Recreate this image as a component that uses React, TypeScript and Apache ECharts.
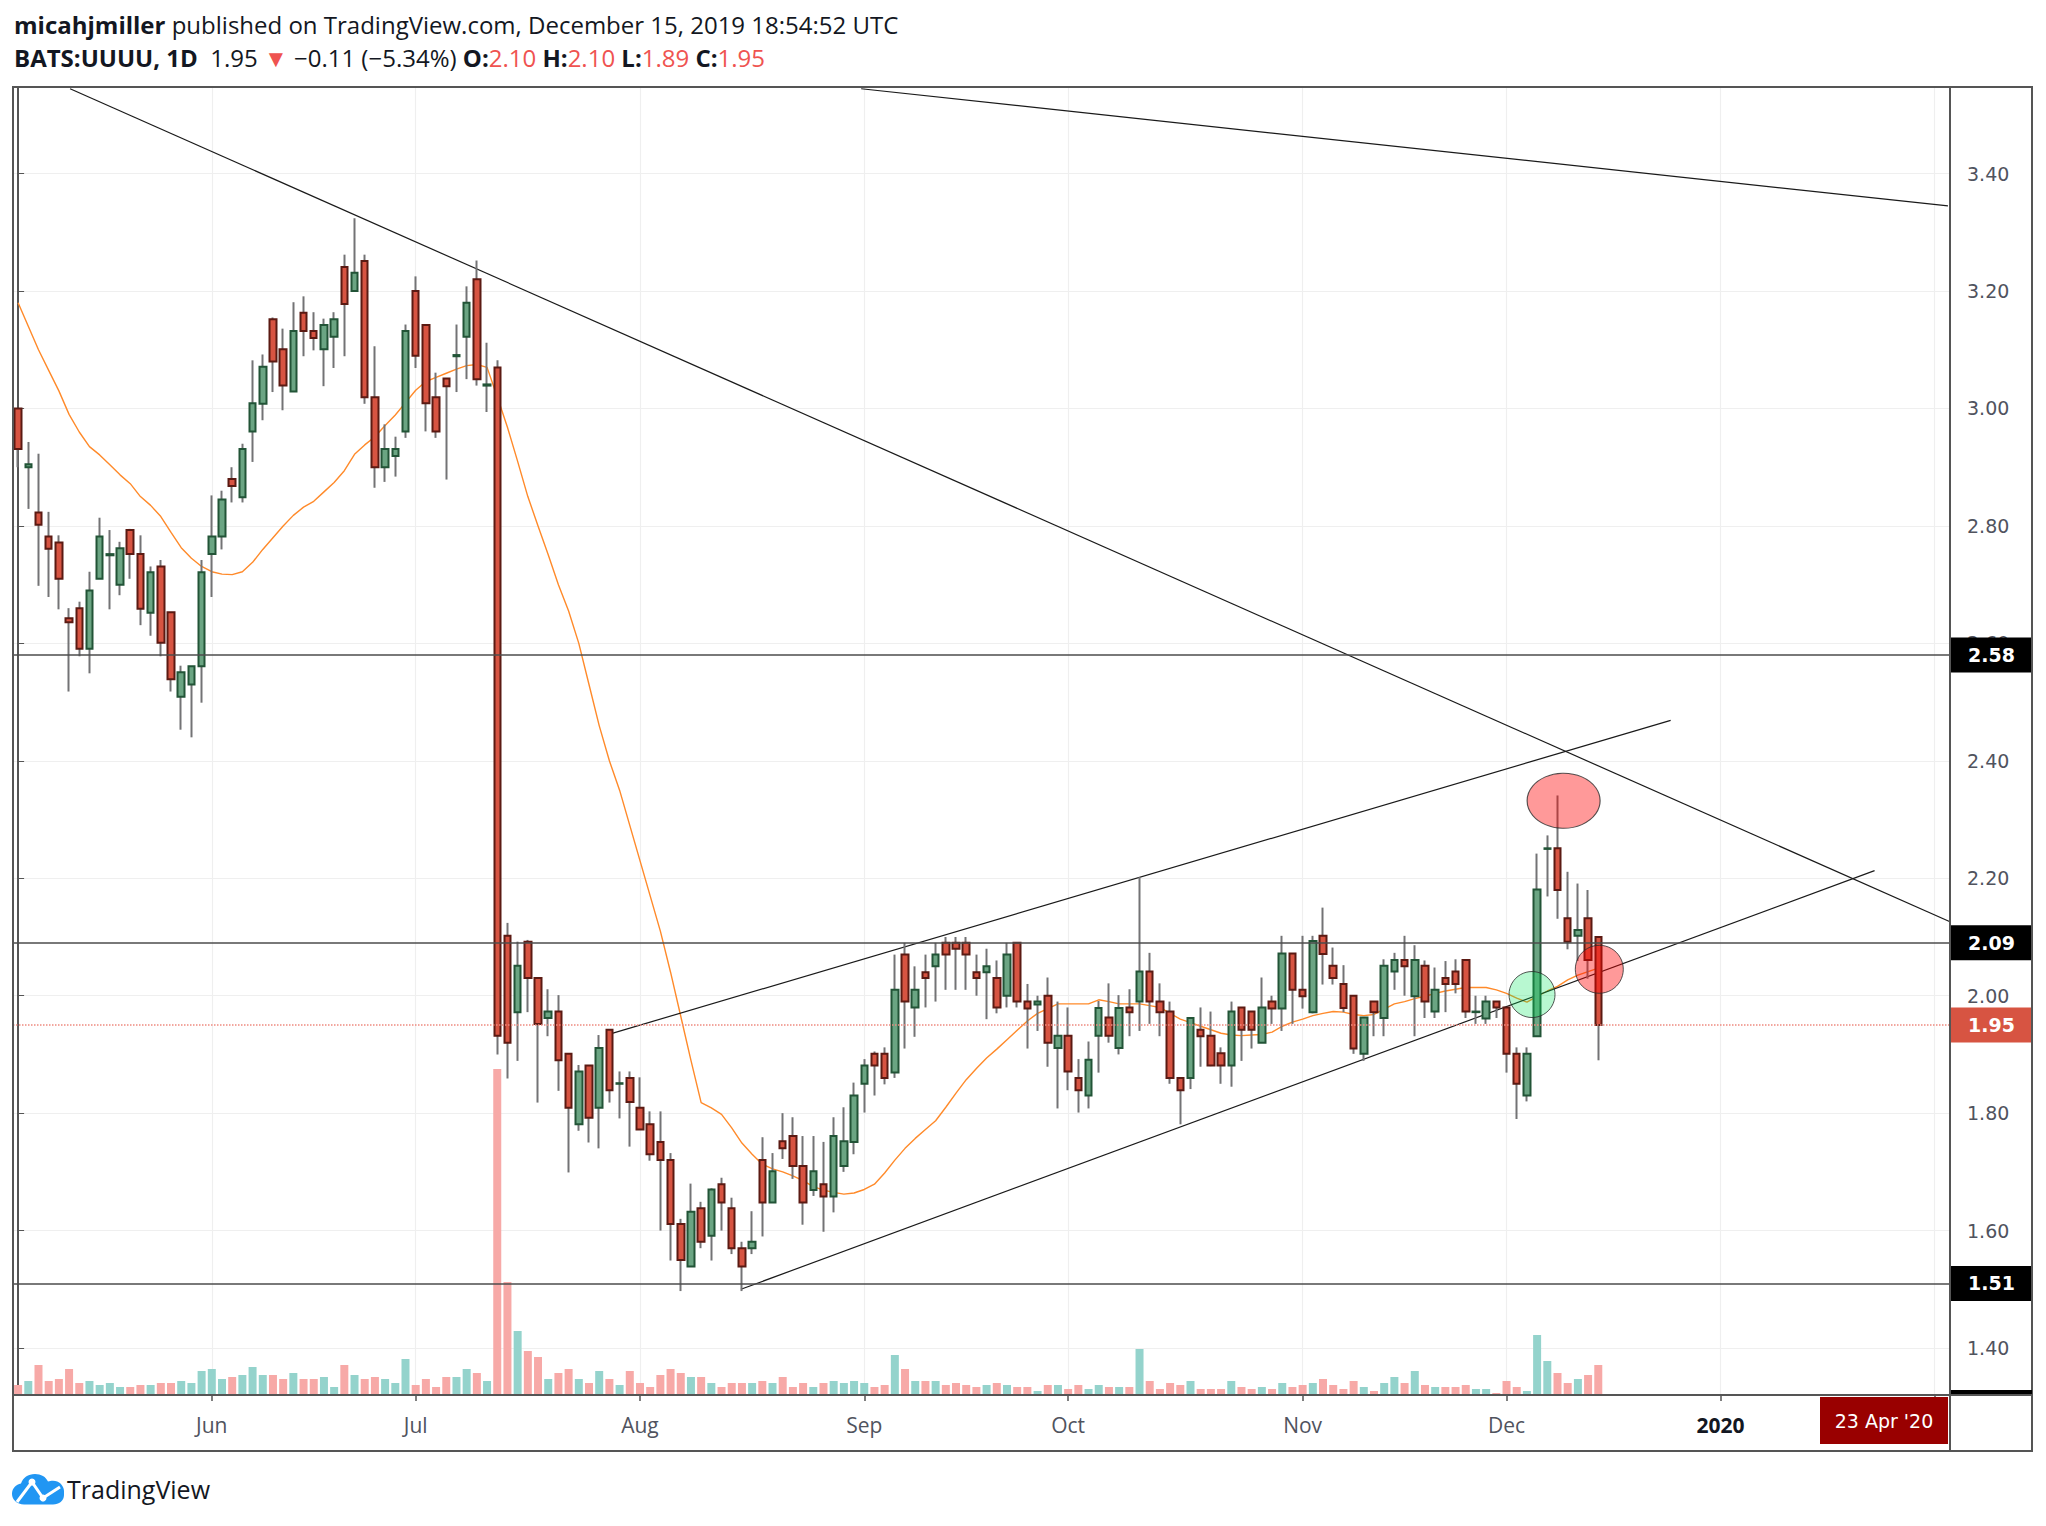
import React, { useEffect, useRef } from 'react';
import * as echarts from 'echarts';

// ---------- axis scaffolding ----------
const FIRST_DAY = '2019-05-06';
const BAR_COUNT = 190; // traded bars + empty future bars on the right
const HOLIDAYS = ['2019-05-27', '2019-07-04', '2019-09-02', '2019-11-28', '2019-12-25', '2020-01-01', '2020-01-20'];
const MONTHS = ['Jan', 'Feb', 'Mar', 'Apr', 'May', 'Jun', 'Jul', 'Aug', 'Sep', 'Oct', 'Nov', 'Dec'];
const LAST_LABEL_DAY = '2020-01-31';

// ---------- daily OHLC (BATS:UUUU, 6 May – 13 Dec 2019) ----------
const open = [
  3.00, 2.90, 2.823, 2.782, 2.772, 2.643, 2.660, 2.591, 2.710, 2.750,
  2.700, 2.793, 2.752, 2.652, 2.731, 2.653, 2.509, 2.530, 2.561, 2.752,
  2.782, 2.880, 2.849, 2.961, 3.008, 3.152, 3.101, 3.029, 3.163, 3.132,
  3.101, 3.122, 3.241, 3.20, 3.251, 3.019, 2.900, 2.919, 2.961, 3.20,
  3.142, 3.019, 3.051, 3.089, 3.122, 3.220, 3.039, 3.07, 2.102, 1.972,
  2.092, 2.030, 1.962, 1.973, 1.901, 1.781, 1.881, 1.809, 1.942, 1.850,
  1.860, 1.809, 1.781, 1.751, 1.720, 1.611, 1.539, 1.638, 1.591, 1.679,
  1.638, 1.570, 1.570, 1.720, 1.648, 1.752, 1.761, 1.710, 1.669, 1.679,
  1.658, 1.710, 1.751, 1.850, 1.901, 1.901, 1.869, 2.07, 1.98, 2.04,
  2.05, 2.09, 2.09, 2.09, 2.04, 2.04, 2.03, 2.00, 2.09, 1.99,
  1.985, 2.00, 1.911, 1.932, 1.860, 1.830, 1.932, 1.963, 1.911, 1.980,
  1.990, 2.041, 1.990, 1.973, 1.860, 1.860, 1.942, 1.932, 1.902, 1.881,
  1.980, 1.973, 1.920, 1.990, 1.978, 2.072, 2.010, 1.972, 2.102, 2.051,
  2.020, 2.00, 1.901, 1.990, 1.962, 2.041, 2.061, 1.999, 2.051, 1.973,
  2.030, 2.041, 2.061, 1.972, 1.961, 1.990, 1.980, 1.901, 1.830, 1.931,
  2.250, 2.251, 2.132, 2.102, 2.132, 2.10,
];
const high = [
  3.00, 2.943, 2.923, 2.824, 2.784, 2.660, 2.671, 2.722, 2.814, 2.793,
  2.773, 2.795, 2.784, 2.731, 2.742, 2.653, 2.562, 2.561, 2.742, 2.852,
  2.86, 2.90, 2.94, 3.082, 3.092, 3.155, 3.136, 3.181, 3.191, 3.164,
  3.153, 3.164, 3.262, 3.324, 3.262, 3.106, 2.973, 2.952, 3.143, 3.225,
  3.142, 3.061, 3.051, 3.143, 3.208, 3.252, 3.112, 3.082, 2.124, 2.092,
  2.095, 2.030, 2.011, 2.001, 1.901, 1.882, 1.881, 1.933, 1.942, 1.871,
  1.871, 1.861, 1.803, 1.803, 1.732, 1.62, 1.680, 1.649, 1.672, 1.690,
  1.656, 1.581, 1.633, 1.759, 1.732, 1.800, 1.793, 1.761, 1.761, 1.751,
  1.793, 1.81, 1.852, 1.892, 1.905, 1.912, 2.07, 2.09, 2.05, 2.07,
  2.09, 2.10, 2.10, 2.10, 2.07, 2.08, 2.06, 2.09, 2.09, 2.02,
  2.00, 2.031, 1.990, 1.980, 1.892, 1.922, 1.991, 2.021, 2.001, 2.011,
  2.202, 2.073, 2.021, 1.990, 1.860, 1.962, 1.980, 1.973, 1.912, 1.990,
  1.98, 1.973, 2.031, 2.00, 2.102, 2.072, 2.102, 2.102, 2.150, 2.082,
  2.052, 2.00, 1.963, 1.99, 2.062, 2.073, 2.102, 2.086, 2.06, 2.048,
  2.059, 2.062, 2.061, 2.00, 2.00, 1.99, 1.98, 1.912, 1.912, 2.242,
  2.273, 2.341, 2.211, 2.191, 2.180, 2.10,
];
const low = [
  2.90, 2.829, 2.698, 2.679, 2.658, 2.518, 2.578, 2.549, 2.710, 2.658,
  2.682, 2.710, 2.631, 2.613, 2.578, 2.518, 2.453, 2.440, 2.499, 2.679,
  2.76, 2.84, 2.84, 2.909, 2.980, 3.028, 2.997, 3.029, 3.089, 3.099,
  3.038, 3.069, 3.089, 3.20, 3.008, 2.865, 2.875, 2.884, 2.950, 3.069,
  2.961, 2.950, 2.879, 3.028, 3.050, 3.039, 2.994, 1.90, 1.859, 1.889,
  1.972, 1.818, 1.931, 1.838, 1.699, 1.770, 1.750, 1.740, 1.818, 1.791,
  1.743, 1.772, 1.719, 1.600, 1.549, 1.497, 1.539, 1.570, 1.549, 1.600,
  1.560, 1.497, 1.560, 1.590, 1.648, 1.722, 1.688, 1.610, 1.659, 1.598,
  1.631, 1.70, 1.730, 1.801, 1.830, 1.849, 1.860, 1.91, 1.93, 1.98,
  1.99, 2.01, 2.01, 2.01, 2.00, 1.96, 1.97, 1.98, 1.98, 1.91,
  1.94, 1.879, 1.808, 1.839, 1.801, 1.808, 1.869, 1.92, 1.90, 1.931,
  1.940, 1.952, 1.931, 1.850, 1.781, 1.841, 1.879, 1.88, 1.850, 1.845,
  1.889, 1.910, 1.92, 1.952, 1.940, 1.952, 1.978, 1.97, 2.019, 2.019,
  1.972, 1.901, 1.889, 1.931, 1.931, 2.010, 2.00, 1.931, 1.962, 1.962,
  1.972, 2.004, 1.962, 1.952, 1.952, 1.962, 1.869, 1.790, 1.820, 1.931,
  2.169, 2.131, 2.079, 2.059, 2.029, 1.89,
];
const close = [
  2.931, 2.905, 2.802, 2.761, 2.710, 2.636, 2.591, 2.690, 2.782, 2.752,
  2.762, 2.752, 2.659, 2.721, 2.601, 2.539, 2.551, 2.561, 2.721, 2.782,
  2.845, 2.868, 2.931, 3.009, 3.071, 3.080, 3.039, 3.132, 3.132, 3.120,
  3.142, 3.152, 3.178, 3.231, 3.019, 2.900, 2.931, 2.931, 3.132, 3.090,
  3.009, 2.961, 3.038, 3.091, 3.180, 3.050, 3.041, 1.932, 1.920, 2.051,
  2.030, 1.952, 1.973, 1.890, 1.809, 1.871, 1.792, 1.911, 1.839, 1.851,
  1.819, 1.772, 1.730, 1.720, 1.611, 1.550, 1.632, 1.581, 1.670, 1.648,
  1.570, 1.539, 1.581, 1.648, 1.701, 1.740, 1.710, 1.648, 1.701, 1.658,
  1.761, 1.752, 1.830, 1.881, 1.881, 1.860, 2.010, 1.99, 2.01, 2.03,
  2.07, 2.07, 2.08, 2.07, 2.03, 2.05, 1.98, 2.07, 1.99, 1.978,
  1.99, 1.920, 1.932, 1.871, 1.839, 1.891, 1.979, 1.932, 1.979, 1.972,
  2.041, 1.990, 1.972, 1.860, 1.839, 1.962, 1.931, 1.881, 1.881, 1.973,
  1.942, 1.942, 1.980, 1.978, 2.072, 2.010, 1.999, 2.093, 2.071, 2.030,
  1.979, 1.910, 1.963, 1.972, 2.051, 2.061, 2.050, 2.061, 1.990, 2.010,
  2.020, 2.020, 1.973, 1.973, 1.990, 1.980, 1.901, 1.850, 1.901, 2.181,
  2.251, 2.180, 2.092, 2.112, 2.061, 1.95,
];
// ---------- volume (relative units) ----------
const volume = [
  10, 14, 30, 14, 16, 26, 12, 14, 10, 12,
  8, 8, 10, 10, 12, 12, 14, 12, 24, 26,
  16, 18, 20, 28, 20, 20, 16, 22, 16, 16,
  18, 8, 30, 20, 16, 18, 16, 12, 36, 10,
  16, 8, 18, 18, 26, 22, 14, 326, 113, 64,
  44, 38, 16, 22, 26, 16, 12, 24, 16, 10,
  24, 12, 8, 20, 26, 22, 18, 18, 12, 8,
  12, 12, 12, 14, 12, 18, 8, 12, 8, 12,
  14, 12, 14, 12, 8, 10, 40, 26, 14, 14,
  14, 10, 12, 10, 8, 10, 12, 10, 8, 8,
  4, 10, 10, 6, 10, 6, 10, 8, 8, 8,
  46, 14, 6, 12, 10, 14, 6, 6, 6, 14,
  8, 6, 8, 6, 12, 8, 10, 12, 16, 10,
  6, 14, 8, 4, 12, 18, 12, 24, 10, 8,
  8, 8, 10, 6, 6, 2, 14, 8, 4, 60,
  34, 22, 12, 16, 20, 30,
];
// ---------- orange moving average ----------
const movingAverage = [
  3.18, 3.14, 3.10, 3.065, 3.03, 2.99, 2.96, 2.935, 2.921, 2.904,
  2.887, 2.872, 2.85, 2.835, 2.816, 2.789, 2.763, 2.745, 2.731, 2.722,
  2.718, 2.717, 2.722, 2.738, 2.76, 2.78, 2.80, 2.818, 2.832, 2.842,
  2.858, 2.874, 2.894, 2.922, 2.938, 2.952, 2.971, 2.989, 3.010, 3.031,
  3.046, 3.053, 3.060, 3.067, 3.073, 3.075, 3.070, 3.02, 2.968, 2.91,
  2.85, 2.80, 2.751, 2.70, 2.655, 2.60, 2.53, 2.46, 2.40, 2.35,
  2.29, 2.23, 2.17, 2.11, 2.04, 1.965, 1.89, 1.818, 1.809, 1.798,
  1.775, 1.749, 1.73, 1.713, 1.705, 1.70, 1.693, 1.685, 1.675, 1.669,
  1.665, 1.662, 1.664, 1.670, 1.679, 1.698, 1.72, 1.74, 1.757, 1.772,
  1.787, 1.81, 1.834, 1.857, 1.876, 1.894, 1.909, 1.925, 1.941, 1.957,
  1.970, 1.978, 1.986, 1.986, 1.986, 1.986, 1.993, 1.99, 1.986, 1.986,
  1.986, 1.983, 1.980, 1.970, 1.960, 1.954, 1.948, 1.942, 1.936, 1.933,
  1.932, 1.933, 1.934, 1.938, 1.948, 1.955, 1.960, 1.966, 1.970, 1.973,
  1.972, 1.968, 1.966, 1.968, 1.977, 1.986, 1.990, 1.995, 1.999, 2.004,
  2.008, 2.011, 2.014, 2.014, 2.014, 2.010, 2.004, 1.996, 1.989, 1.999,
  2.008, 2.016, 2.027, 2.035, 2.041, 2.047,
];
// ---------- drawings ----------
const levelLines = [2.58, 2.09, 1.51];
const lastPrice = 1.95;
// [barIndex, price] endpoints
const trendLines = [
  [[5.1, 3.5445], [189.5, 2.126]],
  [[82.7, 3.5445], [189.3, 3.345]],
  [[58.1, 1.935], [162.1, 2.469]],
  [[70.9, 1.50], [182.1, 2.213]],
];
const markerBars = [151.6, 155.1, 148.5];
const markerPrices = [2.332, 2.045, 2.002];

const PRICE_MIN = 1.32;
const PRICE_MAX = 3.5475;

const GREEN_FILL = '#6ba583';
const GREEN_LINE = '#225437';
const RED_FILL = '#d75442';
const RED_LINE = '#5b1a13';
const WICK = '#737375';
const TXT = '#131722';
const AXIS_TXT = '#50535e';
const FRAME = '#555555';
const GRID = '#efefef';

const CLOUD_D =
  'M12 32 C5 32 0 27 0 21 C0 15 4 11 9 10 C11 4 16 0 23 0 C29 0 34 3 36 8 C37.5 7.5 39 7 41 7 C47 7 52 12 52 18 L52 22 C52 28 47 32 41 32 Z';

function buildDays(): string[] {
  const out: string[] = [];
  const d = new Date(FIRST_DAY + 'T00:00:00Z');
  while (out.length < BAR_COUNT) {
    const wd = d.getUTCDay();
    const s = d.toISOString().slice(0, 10);
    if (wd !== 0 && wd !== 6 && HOLIDAYS.indexOf(s) < 0) out.push(s);
    d.setUTCDate(d.getUTCDate() + 1);
  }
  return out;
}

function buildOption() {
  const days = buildDays();
  const isMonthStart = (i: number) => i > 0 && days[i].slice(5, 7) !== days[i - 1].slice(5, 7);
  const isLabeled = (i: number) => isMonthStart(i) && days[i] <= LAST_LABEL_DAY;

  const wickData = open.map((o, i) => [o, close[i], low[i], high[i]]);
  const bodyData = open.map((o, i) => [o, close[i], Math.min(o, close[i]), Math.max(o, close[i])]);
  const volData = volume.map((v, i) => ({
    value: v,
    itemStyle: { color: close[i] >= open[i] ? '#94d3cc' : '#f7a9a7' },
  }));

  const grid = { left: 13, right: 96, top: 87, bottom: 131 };

  const boxLabel = (txt: string, bg: string) => ({
    show: true,
    position: 'end',
    distance: 0,
    formatter: txt,
    color: '#ffffff',
    backgroundColor: bg,
    fontFamily: 'DejaVu Sans',
    fontWeight: 'bold',
    fontSize: 19,
    lineHeight: 21,
    padding: [7, 12, 7, 18],
    width: 52,
  });

  const markLineData: any[] = levelLines.map((v) => ({
    yAxis: v,
    lineStyle: { color: '#4d4d4d', width: 1.5, type: 'solid' },
    label: boxLabel(v.toFixed(2), '#000000'),
  }));
  markLineData.push({
    yAxis: lastPrice,
    lineStyle: { color: '#ee8a80', width: 1.5, type: 'dotted' },
    label: boxLabel(lastPrice.toFixed(2), RED_FILL),
  });

  const markerStyles = [
    { size: [73, 55], color: 'rgba(255,0,0,0.5)' },
    { size: [48, 48], color: 'rgba(255,0,0,0.5)' },
    { size: [46, 46], color: 'rgba(0,230,90,0.35)' },
  ];

  return {
    animation: false,
    backgroundColor: '#ffffff',
    grid: [grid, grid],
    xAxis: [
      {
        type: 'category',
        gridIndex: 0,
        data: days,
        boundaryGap: true,
        axisLine: { show: true, lineStyle: { color: FRAME, width: 2 } },
        axisTick: { show: true, interval: (i: number) => isMonthStart(i), alignWithLabel: true, length: 6, lineStyle: { color: FRAME, width: 1.5 } },
        axisLabel: {
          interval: (i: number) => isLabeled(i),
          margin: 19,
          color: AXIS_TXT,
          fontFamily: 'Open Sans',
          fontSize: 21,
          formatter: (v: string) => {
            const m = parseInt(v.slice(5, 7), 10);
            return m === 1 ? '{y|' + v.slice(0, 4) + '}' : MONTHS[m - 1];
          },
          rich: { y: { fontFamily: 'Open Sans', fontSize: 21, fontWeight: 'bold', color: TXT } },
        },
        splitLine: { show: true, interval: (i: number) => isMonthStart(i), alignWithLabel: true, lineStyle: { color: GRID, width: 1.2 } },
      },
      { type: 'category', gridIndex: 1, data: days, boundaryGap: true, show: false },
      { type: 'value', gridIndex: 0, min: -0.5, max: BAR_COUNT - 0.5, show: false },
    ],
    yAxis: [
      {
        type: 'value',
        gridIndex: 0,
        position: 'right',
        min: PRICE_MIN,
        max: PRICE_MAX,
        splitNumber: 11,
        axisLine: { show: true, lineStyle: { color: FRAME, width: 2 } },
        axisTick: { show: true, length: 6, lineStyle: { color: FRAME } },
        axisLabel: {
          margin: 17,
          color: AXIS_TXT,
          fontFamily: 'DejaVu Sans',
          fontSize: 19,
          showMinLabel: false,
          showMaxLabel: false,
          formatter: (v: number) => (Math.abs(v * 5 - Math.round(v * 5)) < 1e-6 ? v.toFixed(2) : ''),
        },
        splitLine: { show: true, lineStyle: { color: GRID, width: 1.2 } },
      },
      { type: 'value', gridIndex: 1, min: 0, max: 1308, show: false },
    ],
    series: [
      {
        type: 'bar',
        name: 'volume',
        xAxisIndex: 1,
        yAxisIndex: 1,
        data: volData,
        barWidth: 8,
        z: 1,
        silent: true,
      },
      {
        type: 'line',
        name: 'ma',
        xAxisIndex: 0,
        yAxisIndex: 0,
        data: movingAverage,
        showSymbol: false,
        symbol: 'none',
        lineStyle: { color: '#ff8a2a', width: 1.4 },
        z: 2,
        silent: true,
        markLine: { silent: true, symbol: ['none', 'none'], animation: false, data: markLineData },
      },
      ...trendLines.map((seg) => ({
        type: 'line',
        xAxisIndex: 2,
        yAxisIndex: 0,
        data: seg,
        showSymbol: false,
        symbol: 'none',
        lineStyle: { color: '#1a1a1a', width: 1.2 },
        z: 2,
        silent: true,
      })),
      {
        type: 'candlestick',
        name: 'wicks',
        xAxisIndex: 0,
        yAxisIndex: 0,
        data: wickData,
        barWidth: 1,
        itemStyle: { color: WICK, color0: WICK, borderColor: WICK, borderColor0: WICK, borderWidth: 2 },
        z: 3,
        silent: true,
      },
      {
        type: 'candlestick',
        name: 'bodies',
        xAxisIndex: 0,
        yAxisIndex: 0,
        data: bodyData,
        barWidth: 7,
        itemStyle: { color: GREEN_FILL, color0: RED_FILL, borderColor: GREEN_LINE, borderColor0: RED_LINE, borderWidth: 2 },
        z: 4,
        silent: true,
      },
      {
        type: 'scatter',
        xAxisIndex: 2,
        yAxisIndex: 0,
        z: 6,
        silent: true,
        data: markerBars.map((b, i) => ({
          value: [b, markerPrices[i]],
          symbolSize: markerStyles[i].size,
          itemStyle: { color: markerStyles[i].color, borderColor: '#2a2a2a', borderWidth: 1 },
        })),
      },
    ],
    graphic: [
      {
        type: 'text',
        x: 14,
        y: 24,
        z: 50,
        style: {
          text: '{b|micahjmiller} published on TradingView.com, December 15, 2019 18:54:52 UTC',
          fontFamily: 'Open Sans',
          fontSize: 24,
          fill: TXT,
          verticalAlign: 'middle',
          rich: { b: { fontFamily: 'Open Sans', fontSize: 24, fontWeight: 'bold', fill: TXT } },
        },
      },
      {
        type: 'text',
        x: 14,
        y: 57,
        z: 50,
        style: {
          text: '{b|BATS:UUUU, 1D}  1.95 {r|▼} −0.11 (−5.34%) {b|O:}{r|2.10} {b|H:}{r|2.10} {b|L:}{r|1.89} {b|C:}{r|1.95}',
          fontFamily: 'Open Sans',
          fontSize: 24,
          fill: TXT,
          verticalAlign: 'middle',
          rich: {
            b: { fontFamily: 'Open Sans', fontSize: 24, fontWeight: 'bold', fill: TXT },
            r: { fontFamily: 'Open Sans', fontSize: 24, fill: '#ef5350' },
          },
        },
      },
      {
        type: 'rect',
        z: 40,
        shape: { x: 13, y: 87, width: 2019, height: 1364 },
        style: { fill: 'none', stroke: FRAME, lineWidth: 2 },
      },
      { type: 'line', z: 40, shape: { x1: 1950, y1: 87, x2: 1950, y2: 1451 }, style: { stroke: FRAME, lineWidth: 2 } },
      { type: 'line', z: 40, shape: { x1: 13, y1: 1395, x2: 2032, y2: 1395 }, style: { stroke: FRAME, lineWidth: 2 } },
      { type: 'rect', z: 41, shape: { x: 1951, y: 1390, width: 81, height: 4 }, style: { fill: '#000000' } },
      { type: 'rect', z: 41, shape: { x: 1820, y: 1397, width: 128, height: 47 }, style: { fill: '#990000' } },
      {
        type: 'text',
        z: 42,
        x: 1884,
        y: 1421,
        style: { text: "23 Apr '20", fontFamily: 'DejaVu Sans', fontSize: 19, fill: '#ffffff', align: 'center', verticalAlign: 'middle' },
      },
      { type: 'tvCloud', z: 42, x: 12, y: 1474, scaleX: 1, scaleY: 0.95, style: { fill: '#2196f3' } },
      {
        type: 'polyline',
        z: 43,
        shape: { points: [[17, 1502], [32, 1482], [43, 1498], [60, 1487]] },
        style: { stroke: '#ffffff', lineWidth: 3, fill: 'none' },
      },
      { type: 'circle', z: 44, shape: { cx: 32, cy: 1482, r: 3.5 }, style: { fill: '#ffffff' } },
      { type: 'circle', z: 44, shape: { cx: 43, cy: 1498, r: 3.5 }, style: { fill: '#ffffff' } },
      {
        type: 'text',
        z: 42,
        x: 67,
        y: 1489,
        style: { text: 'TradingView', fontFamily: 'Open Sans', fontSize: 25, fill: TXT, verticalAlign: 'middle' },
      },
    ],
  };
}

export default function App() {
  const ref = useRef<HTMLDivElement>(null);
  useEffect(() => {
    if (!ref.current) return;
    try {
      echarts.graphic.registerShape('tvCloud', echarts.graphic.extendPath(CLOUD_D, {}));
    } catch (e) {
      // already registered
    }
    const chart = echarts.init(ref.current, null, { renderer: 'svg', width: 2046, height: 1526 });
    chart.setOption(buildOption() as any);
    return () => chart.dispose();
  }, []);
  return (
    <div
      ref={ref}
      style={{ position: 'fixed', left: 0, top: 0, width: 2046, height: 1526, background: '#ffffff' }}
    />
  );
}
